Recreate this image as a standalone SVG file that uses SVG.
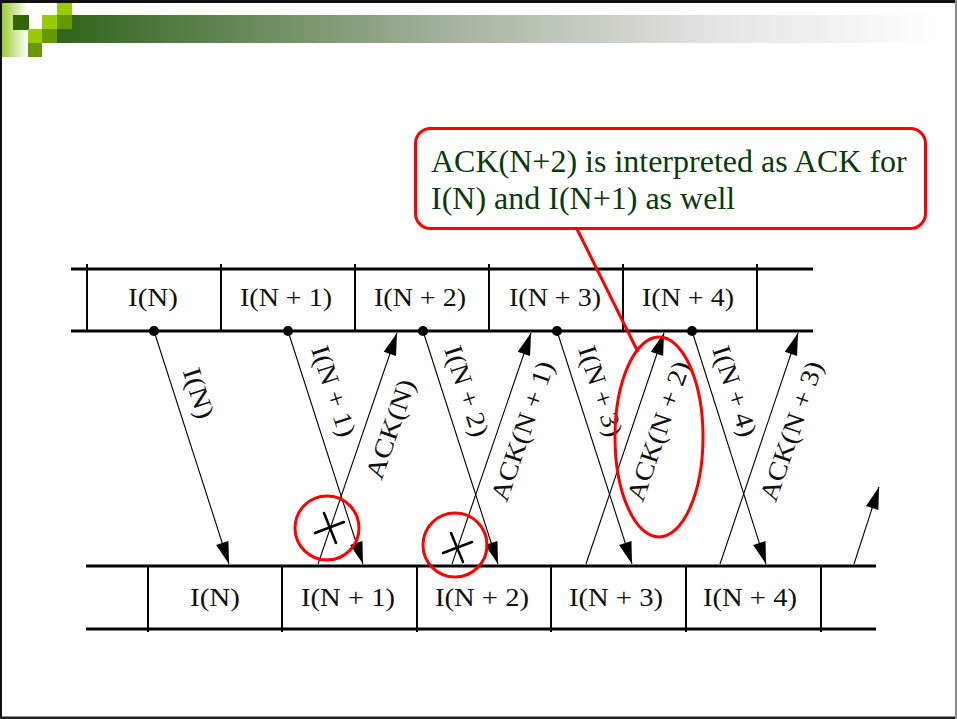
<svg xmlns="http://www.w3.org/2000/svg" width="957" height="719" viewBox="0 0 957 719">
  <style>
    .frame { stroke: #000; stroke-width: 3; fill: none; }
    .sep { stroke: #000; stroke-width: 2; fill: none; }
    .arrow { stroke: #000; stroke-width: 1.1; fill: none; marker-end: url(#head); }
    .lbl { font-family: "Liberation Serif", "Times New Roman", serif; font-size: 26px; fill: #111; }
    .mark { stroke: #ff0000; stroke-width: 3; fill: none; }
    .cross { stroke: #000; stroke-width: 2.5; fill: none; stroke-linecap: round; }
    .note { font-family: "Liberation Serif", "Times New Roman", serif; font-size: 32px; fill: #0a3a0a; }
  </style>
  <defs>
    <marker id="head" markerUnits="userSpaceOnUse" viewBox="-23 -8 24 16" refX="0" refY="0" markerWidth="24" markerHeight="16" orient="auto">
      <path d="M0,0 L-22,-6.5 L-22,6.5 Z" fill="#000"/>
    </marker>
    <linearGradient id="bar" x1="0" y1="0" x2="1" y2="0">
      <stop offset="0" stop-color="#2f641a"/>
      <stop offset="0.45" stop-color="#a6b4a0"/>
      <stop offset="0.75" stop-color="#e4e6e2"/>
      <stop offset="1" stop-color="#ffffff"/>
    </linearGradient>
    <linearGradient id="strip" x1="0" y1="0" x2="1" y2="0">
      <stop offset="0" stop-color="#99cc33"/>
      <stop offset="1" stop-color="#ffffff"/>
    </linearGradient>
  </defs>

  <!-- slide background and border -->
  <rect x="0" y="0" width="957" height="719" fill="#fff"/>
  <g id="header">
    <rect x="57" y="15" width="886" height="28" fill="url(#bar)"/>
    <rect x="2" y="3" width="26" height="54" fill="url(#strip)"/>
    <rect x="13" y="15" width="16" height="15" fill="#336600"/>
    <rect x="57" y="3" width="15" height="12" fill="#99cc00"/>
    <rect x="42" y="15" width="15" height="14" fill="#99cc00"/>
    <rect x="57" y="15" width="15" height="14" fill="#669900"/>
    <rect x="28" y="29" width="14" height="14" fill="#99cc00"/>
    <rect x="42" y="29" width="15" height="14" fill="#669900"/>
    <rect x="28" y="43" width="14" height="14" fill="#669900"/>
  </g>
  <rect x="0" y="0" width="957" height="3" fill="#111"/>
  <rect x="0" y="0" width="2" height="719" fill="#111"/>
  <rect x="0" y="716.5" width="957" height="2.5" fill="#222"/>
  <rect x="955" y="0" width="2" height="719" fill="#8a8a8a"/>

  <!-- sender's frame sequence -->
  <g id="sender">
    <line class="frame" x1="71" y1="269" x2="813" y2="269"/>
    <line class="frame" x1="71" y1="331" x2="813" y2="331"/>
    <line class="sep" x1="87" y1="264" x2="87" y2="331"/>
    <line class="sep" x1="221" y1="264" x2="221" y2="331"/>
    <line class="sep" x1="355" y1="264" x2="355" y2="331"/>
    <line class="sep" x1="489" y1="264" x2="489" y2="331"/>
    <line class="sep" x1="623" y1="264" x2="623" y2="331"/>
    <line class="sep" x1="757" y1="264" x2="757" y2="331"/>
    <text class="lbl" x="153" y="306" text-anchor="middle" textLength="50" lengthAdjust="spacingAndGlyphs">I(N)</text>
    <text class="lbl" x="286" y="306" text-anchor="middle" textLength="92" lengthAdjust="spacingAndGlyphs">I(N + 1)</text>
    <text class="lbl" x="420" y="306" text-anchor="middle" textLength="92" lengthAdjust="spacingAndGlyphs">I(N + 2)</text>
    <text class="lbl" x="555" y="306" text-anchor="middle" textLength="92" lengthAdjust="spacingAndGlyphs">I(N + 3)</text>
    <text class="lbl" x="688" y="306" text-anchor="middle" textLength="92" lengthAdjust="spacingAndGlyphs">I(N + 4)</text>
    <circle cx="154" cy="331" r="5" fill="#000"/>
    <circle cx="288" cy="331" r="5" fill="#000"/>
    <circle cx="423" cy="331" r="5" fill="#000"/>
    <circle cx="557" cy="331" r="5" fill="#000"/>
    <circle cx="692" cy="331" r="5" fill="#000"/>
  </g>

  <!-- receiver's frame sequence -->
  <g id="receiver">
    <line class="frame" x1="86" y1="566" x2="876" y2="566"/>
    <line class="frame" x1="86" y1="629" x2="876" y2="629"/>
    <line class="sep" x1="148" y1="566" x2="148" y2="632"/>
    <line class="sep" x1="282" y1="566" x2="282" y2="632"/>
    <line class="sep" x1="417" y1="566" x2="417" y2="632"/>
    <line class="sep" x1="551" y1="566" x2="551" y2="632"/>
    <line class="sep" x1="686" y1="566" x2="686" y2="632"/>
    <line class="sep" x1="821" y1="566" x2="821" y2="632"/>
    <text class="lbl" x="215" y="606" text-anchor="middle" textLength="50" lengthAdjust="spacingAndGlyphs">I(N)</text>
    <text class="lbl" x="348" y="606" text-anchor="middle" textLength="94" lengthAdjust="spacingAndGlyphs">I(N + 1)</text>
    <text class="lbl" x="482" y="606" text-anchor="middle" textLength="94" lengthAdjust="spacingAndGlyphs">I(N + 2)</text>
    <text class="lbl" x="616" y="606" text-anchor="middle" textLength="94" lengthAdjust="spacingAndGlyphs">I(N + 3)</text>
    <text class="lbl" x="750" y="606" text-anchor="middle" textLength="94" lengthAdjust="spacingAndGlyphs">I(N + 4)</text>
  </g>

  <!-- frames and acknowledgements in transit -->
  <g id="connectors">
    <line class="arrow" x1="154" y1="331" x2="229" y2="564"/>
    <line class="arrow" x1="288" y1="331" x2="363" y2="564"/>
    <line class="arrow" x1="423" y1="331" x2="498" y2="564"/>
    <line class="arrow" x1="557" y1="331" x2="632" y2="564"/>
    <line class="arrow" x1="692" y1="331" x2="766" y2="564"/>
    <line class="arrow" x1="318" y1="564" x2="397" y2="333"/>
    <line class="arrow" x1="452" y1="564" x2="531" y2="333"/>
    <line class="arrow" x1="586" y1="564" x2="664" y2="333"/>
    <line class="arrow" x1="720" y1="564" x2="798" y2="333"/>
    <line class="arrow" x1="854" y1="564" x2="879" y2="487"/>
  </g>

  <g id="frame-labels">
    <text class="lbl" transform="translate(199 393) rotate(72)" y="9" text-anchor="middle" textLength="52" lengthAdjust="spacingAndGlyphs">I(N)</text>
    <text class="lbl" transform="translate(334 391) rotate(72)" y="9" text-anchor="middle" textLength="94" lengthAdjust="spacingAndGlyphs">I(N + 1)</text>
    <text class="lbl" transform="translate(467 391) rotate(72)" y="9" text-anchor="middle" textLength="94" lengthAdjust="spacingAndGlyphs">I(N + 2)</text>
    <text class="lbl" transform="translate(601 391) rotate(72)" y="9" text-anchor="middle" textLength="94" lengthAdjust="spacingAndGlyphs">I(N + 3)</text>
    <text class="lbl" transform="translate(735 391) rotate(72)" y="9" text-anchor="middle" textLength="94" lengthAdjust="spacingAndGlyphs">I(N + 4)</text>
  </g>
  <g id="ack-labels">
    <text class="lbl" transform="translate(390 429) rotate(-71)" y="9" text-anchor="middle" textLength="104" lengthAdjust="spacingAndGlyphs">ACK(N)</text>
    <text class="lbl" transform="translate(522 431) rotate(-71)" y="9" text-anchor="middle" textLength="146" lengthAdjust="spacingAndGlyphs">ACK(N + 1)</text>
    <text class="lbl" transform="translate(658 431) rotate(-71)" y="9" text-anchor="middle" textLength="146" lengthAdjust="spacingAndGlyphs">ACK(N + 2)</text>
    <text class="lbl" transform="translate(791 431) rotate(-71)" y="9" text-anchor="middle" textLength="146" lengthAdjust="spacingAndGlyphs">ACK(N + 3)</text>
  </g>

  <!-- lost acknowledgements -->
  <g id="lost-ack-1">
    <line class="cross" x1="315" y1="533" x2="344" y2="522"/>
    <line class="cross" x1="324" y1="513" x2="336" y2="543"/>
    <circle class="mark" cx="327" cy="528" r="32"/>
  </g>
  <g id="lost-ack-2">
    <line class="cross" x1="443" y1="553" x2="472" y2="542"/>
    <line class="cross" x1="451" y1="533" x2="463" y2="562"/>
    <circle class="mark" cx="455" cy="545" r="32"/>
  </g>

  <!-- callout on the cumulative acknowledgement -->
  <g id="callout">
    <ellipse class="mark" cx="659" cy="437" rx="44" ry="100"/>
    <line class="mark" x1="577" y1="229" x2="638" y2="352"/>
    <rect class="mark" x="415.5" y="128.5" width="510" height="100" rx="15" ry="15" fill="#fff"/>
    <text class="note" x="431" y="172">ACK(N+2) is interpreted as ACK for</text>
    <text class="note" x="431" y="209">I(N) and I(N+1) as well</text>
  </g>
</svg>
